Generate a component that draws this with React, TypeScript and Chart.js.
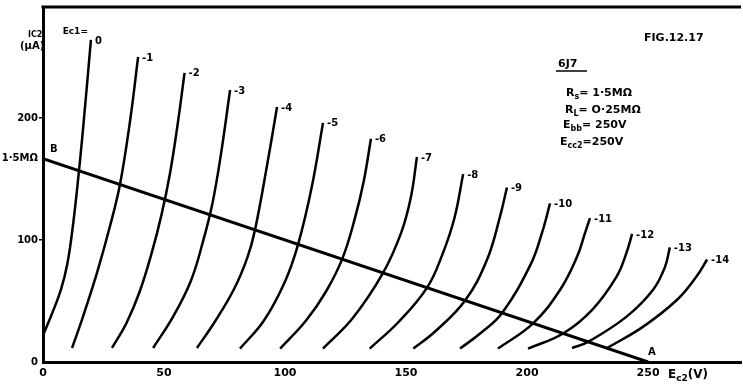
import React, { useEffect, useRef } from 'react';
import { Chart, registerables } from 'chart.js';

Chart.register(...registerables);

// Grid bias (Ec1) of each characteristic curve
const gridBias = ['0', '-1', '-2', '-3', '-4', '-5', '-6', '-7', '-8', '-9', '-10', '-11', '-12', '-13', '-14'];

// Screen current Ic2 (µA) vs screen voltage Ec2 (V), one array per curve: [Ec2, Ic2]
const curve0: number[][] = [[0, 22], [4, 41], [7.5, 60], [10, 80], [12, 106], [14, 140], [16.5, 190], [19.8, 264]];
const curveM1: number[][] = [[12, 11.5], [16.5, 37], [22.3, 73], [27.5, 110], [31.8, 145.5], [36, 198], [39.3, 250]];
const curveM2: number[][] = [[28.5, 11.5], [34.5, 32], [40, 58], [45, 90], [49, 121], [52.5, 155], [55.5, 193], [58.5, 237]];
const curveM3: number[][] = [[45.5, 11.5], [53.7, 37], [61, 66], [66, 98], [70, 130], [73.5, 170], [77.3, 223]];
const curveM4: number[][] = [[63.6, 11.5], [71, 33], [79, 60], [84.5, 86], [87.6, 108.3], [93, 166], [96.7, 209]];
const curveM5: number[][] = [[81.4, 11], [91.3, 34], [100, 66], [105.4, 96.4], [111, 143], [115.7, 196]];
const curveM6: number[][] = [[98, 11], [108.7, 34], [117, 58], [123.6, 84.3], [128.5, 115], [132.5, 148], [135.5, 183]];
const curveM7: number[][] = [[115.7, 11], [128, 36], [140.5, 73], [148, 106], [152, 135], [154.5, 168]];
const curveM8: number[][] = [[135, 11], [147, 33], [158.7, 61], [165, 88], [170, 118], [173.6, 154]];
const curveM9: number[][] = [[153, 11], [162, 25], [174.4, 50.4], [183.5, 84], [188.8, 119], [191.7, 143]];
const curveM10: number[][] = [[172.3, 11], [181, 24], [189.7, 40.2], [201.5, 80], [206.2, 106], [209.5, 130]];
const curveM11: number[][] = [[188, 11], [202.5, 31.7], [213.6, 59], [220.6, 86], [224, 106], [226, 118]];
const curveM12: number[][] = [[200.4, 11], [214.9, 23.4], [227, 43], [237, 70], [241, 89], [243.4, 105]];
const curveM13: number[][] = [[218.6, 11.5], [225.2, 16.5], [241, 37], [252, 59], [257, 78], [259, 94]];
const curveM14: number[][] = [[233, 11.3], [248, 29], [262, 51], [270, 70], [274.4, 84]];

const curves = [curve0, curveM1, curveM2, curveM3, curveM4, curveM5, curveM6, curveM7, curveM8,
  curveM9, curveM10, curveM11, curveM12, curveM13, curveM14];

// Load line from B (Ebb/Rs) to A (Ebb)
const loadLine: number[][] = [[0, 166.7], [250, 0]];
const loadLineTickLabel = '1·5MΩ';

const xTicks = [0, 50, 100, 150, 200, 250];
const yTicks = [0, 100, 166.7, 200];

const FONT = '"DejaVu Sans", "Liberation Sans", sans-serif';

function drawRich(ctx: CanvasRenderingContext2D, x: number, y: number, parts: [string, boolean][], size: number) {
  let cx = x;
  for (const [t, sub] of parts) {
    ctx.font = `bold ${sub ? size - 3 : size}px ${FONT}`;
    ctx.fillText(t, cx, sub ? y + 3 : y);
    cx += ctx.measureText(t).width;
  }
}

const annotate = {
  id: 'annotate',
  afterDraw(chart: any) {
    const ctx: CanvasRenderingContext2D = chart.ctx;
    const xs = chart.scales.x;
    const ys = chart.scales.y;
    const { left, right, top } = chart.chartArea;
    ctx.save();
    // top frame line
    ctx.strokeStyle = '#000';
    ctx.lineWidth = 3;
    ctx.beginPath();
    ctx.moveTo(left - 1.5, top);
    ctx.lineTo(right, top);
    ctx.stroke();

    ctx.fillStyle = '#000';
    ctx.textBaseline = 'middle';
    ctx.textAlign = 'left';
    ctx.font = `bold 10px ${FONT}`;
    curves.forEach((c, i) => {
      const p = c[c.length - 1];
      ctx.fillText(gridBias[i], xs.getPixelForValue(p[0]) + 4, ys.getPixelForValue(p[1]) + 1);
    });
    // Ec1= label, just left of the top of the Ec1=0 curve
    const p0 = curve0[curve0.length - 1];
    ctx.textAlign = 'right';
    ctx.font = `bold 9px ${FONT}`;
    ctx.fillText('Ec1=', xs.getPixelForValue(p0[0]) - 3, ys.getPixelForValue(p0[1]) - 8);
    ctx.textAlign = 'left';
    // B and A
    ctx.font = `bold 10px ${FONT}`;
    ctx.fillText('B', xs.getPixelForValue(loadLine[0][0]) + 7, ys.getPixelForValue(loadLine[0][1]) - 9);
    ctx.fillText('A', xs.getPixelForValue(loadLine[1][0]), ys.getPixelForValue(loadLine[1][1]) - 10);

    // axis titles
    ctx.textBaseline = 'alphabetic';
    ctx.font = `bold 8px ${FONT}`;
    ctx.fillText('IC2', 28, 37);
    ctx.font = `bold 10px ${FONT}`;
    ctx.fillText('(µA)', 20, 49);
    drawRich(ctx, 668, 378, [['E', false], ['c2', true], ['(V)', false]], 12);

    // figure notes
    ctx.font = `bold 11px ${FONT}`;
    ctx.fillText('FIG.12.17', 644, 41);
    ctx.fillText('6J7', 558, 67);
    ctx.lineWidth = 1.5;
    ctx.beginPath();
    ctx.moveTo(556, 71);
    ctx.lineTo(587, 71);
    ctx.stroke();
    drawRich(ctx, 566, 96, [['R', false], ['s', true], ['= 1·5MΩ', false]], 11);
    drawRich(ctx, 565, 113, [['R', false], ['L', true], ['= O·25MΩ', false]], 11);
    drawRich(ctx, 563, 128, [['E', false], ['bb', true], ['= 250V', false]], 11);
    drawRich(ctx, 560, 145, [['E', false], ['cc2', true], ['=250V', false]], 11);
    ctx.restore();
  },
};

export default function App() {
  const ref = useRef<HTMLCanvasElement | null>(null);
  useEffect(() => {
    if (!ref.current) return;
    const datasets: any[] = curves.map((c, i) => ({
      label: 'Ec1=' + gridBias[i],
      data: c.map(([x, y]) => ({ x, y })),
      showLine: true,
      borderColor: '#000',
      borderWidth: 2.5,
      pointRadius: 0,
      tension: 0.4,
      fill: false,
    }));
    datasets.push({
      label: 'Load line',
      data: loadLine.map(([x, y]) => ({ x, y })),
      showLine: true,
      borderColor: '#000',
      borderWidth: 3,
      pointRadius: 0,
      fill: false,
    });
    const chart = new Chart(ref.current, {
      type: 'scatter',
      data: { datasets },
      plugins: [annotate],
      options: {
        animation: false,
        responsive: true,
        maintainAspectRatio: false,
        layout: { padding: { top: 7, right: 2, left: 0, bottom: 0 } },
        plugins: { legend: { display: false }, tooltip: { enabled: false } },
        scales: {
          x: {
            type: 'linear',
            min: 0,
            max: 288.4,
            afterBuildTicks: (s: any) => { s.ticks = xTicks.map((v) => ({ value: v })); },
            afterFit: (s: any) => { s.height = 24; },
            grid: { display: false, drawTicks: false },
            border: { display: true, color: '#000', width: 3 },
            ticks: {
              color: '#000',
              padding: 5,
              maxRotation: 0,
              font: { family: FONT, size: 11, weight: 'bold' },
              callback: (v: any) => String(v),
            },
          },
          y: {
            type: 'linear',
            min: 0,
            max: 291,
            afterBuildTicks: (s: any) => { s.ticks = yTicks.map((v) => ({ value: v })); },
            afterFit: (s: any) => { s.width = 43; },
            grid: {
              display: true,
              drawOnChartArea: false,
              drawTicks: true,
              tickLength: 4,
              color: (c: any) => (c.tick && (c.tick.value === 166.7 || c.tick.value === 0) ? 'rgba(0,0,0,0)' : '#000'),
              lineWidth: 1.5,
            },
            border: { display: true, color: '#000', width: 3 },
            ticks: {
              color: '#000',
              padding: 1,
              font: { family: FONT, size: 10, weight: 'bold' },
              callback: (v: any) => (v === 166.7 ? loadLineTickLabel : String(v)),
            },
          },
        },
      } as any,
    });
    return () => chart.destroy();
  }, []);
  return (
    <div style={{ position: 'fixed', left: 0, top: 0, width: 743, height: 386, background: '#fff' }}>
      <canvas ref={ref} />
    </div>
  );
}
